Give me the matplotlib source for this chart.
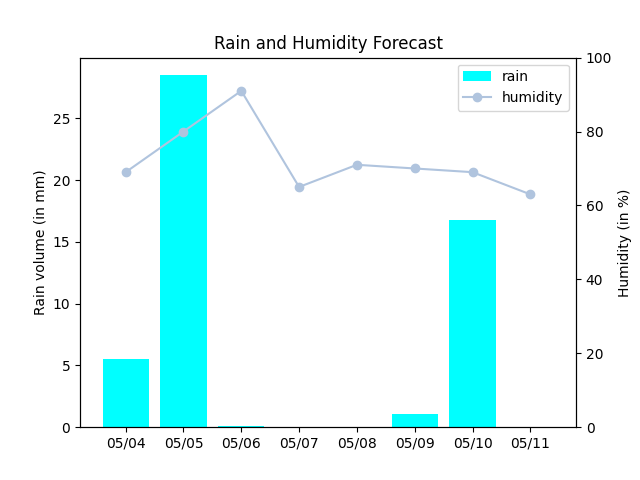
import matplotlib
matplotlib.use('Agg')
import matplotlib.pyplot as plt

# dados
dias = ['05/04', '05/05', '05/06', '05/07', '05/08', '05/09', '05/10', '05/11']
chuva = [5.5, 28.5, 0.1, 0.0, 0.0, 1.05, 16.75, 0.0]
umidade = [69, 80, 91, 65, 71, 70, 69, 63]

fig, ax1 = plt.subplots(figsize=(6.4, 4.8), dpi=100)
barras = ax1.bar(dias, chuva, color='cyan', label='rain')
ax1.set_ylabel('Rain volume (in mm)')

ax2 = ax1.twinx()
linha, = ax2.plot(dias, umidade, color='lightsteelblue', marker='o', label='humidity')
ax2.set_ylim(0, 100)
ax2.set_ylabel('Humidity (in %)')

ax2.legend([barras, linha], ['rain', 'humidity'], loc='upper right')
plt.title('Rain and Humidity Forecast')

plt.savefig('out.png')
